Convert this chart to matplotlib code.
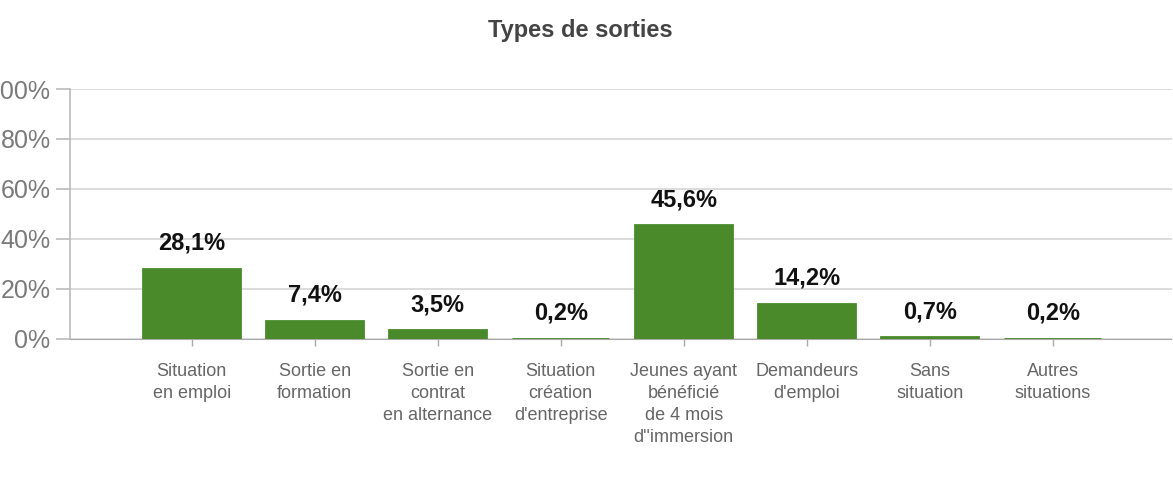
import numpy as np
import matplotlib.pyplot as plt

categories = ["Situation\nen emploi", "Sortie en\nformation", "Sortie en\ncontrat\nen alternance",
              "Situation\ncréation\nd'entreprise", "Jeunes ayant\nbénéficié\nde 4 mois\nd''immersion",
              "Demandeurs\nd'emploi", "Sans\nsituation", "Autres\nsituations"]
values = [28.1, 7.4, 3.5, 0.2, 45.6, 14.2, 0.7, 0.2]
value_labels = ["28,1%", "7,4%", "3,5%", "0,2%", "45,6%", "14,2%", "0,7%", "0,2%"]
yticks = [0, 20, 40, 60, 80, 100]
ytick_labels = ["0%", "20%", "40%", "60%", "80%", "100%"]

plt.rcParams['font.family'] = ['Liberation Sans Narrow', 'Liberation Sans', 'DejaVu Sans']

green = '#4a8a2a'
W, H = 1173, 488
fig = plt.figure(figsize=(W / 100, H / 100), dpi=100)
ax = fig.add_axes([70 / W, (H - 339) / H, (1172 - 70) / W, (339 - 89) / H])

x = np.arange(len(values))
# thin edge keeps the tiny bars (0,2 %) visible like in the original
ax.bar(x, values, width=0.79, color=green, edgecolor=green, linewidth=2, zorder=3)

for xi, v, lab in zip(x, values, value_labels):
    ax.annotate(lab, (xi, v), xytext=(0, 10), textcoords='offset points',
                ha='center', va='bottom', fontsize=17, fontweight='bold', color='#111111')

ax.set_xlim(-0.99, 7.97)
ax.set_ylim(0, 100)
ax.set_yticks(yticks)
ax.set_yticklabels(ytick_labels, fontsize=18, color='#7a7a7a')
ax.set_xticks(x)
ax.set_xticklabels(categories, fontsize=13, color='#666666', linespacing=1.4, va='top')

ax.grid(axis='y', color='#d6d6d6', linewidth=1.2, zorder=0)
for s in ['top', 'right']:
    ax.spines[s].set_visible(False)
ax.spines['left'].set_color('#bbbbbb')
ax.spines['left'].set_linewidth(1.2)
ax.spines['bottom'].set_color('#aaaaaa')
ax.spines['bottom'].set_linestyle((0, (1, 1)))
ax.tick_params(axis='y', length=10, color='#bbbbbb', width=1.2, pad=4)
ax.tick_params(axis='x', length=5, color='#aaaaaa', width=1, pad=12)

fig.text(580 / W, 1 - 30 / H, "Types de sorties", ha='center', va='center',
         fontsize=17, fontweight='bold', color='#444444')

fig.savefig('out.png', dpi=100)
